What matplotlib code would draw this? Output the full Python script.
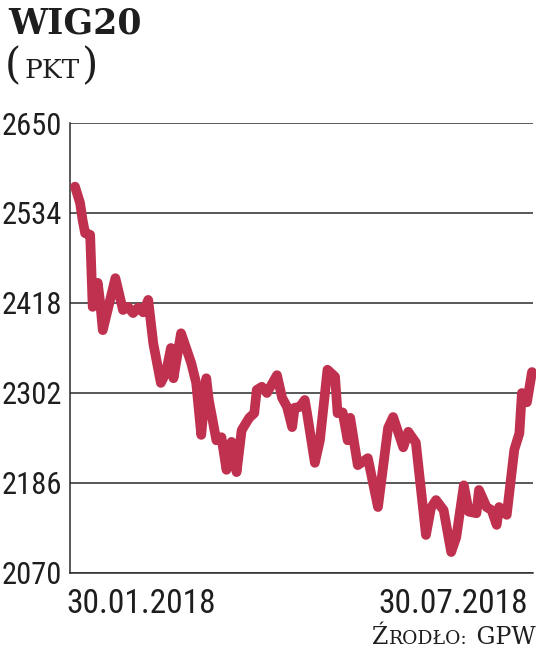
import matplotlib
matplotlib.use('Agg')
import matplotlib.pyplot as plt
from matplotlib import font_manager

# WIG20 index, 30.01.2018 - 30.07.2018
days = [0, 2, 3, 4, 6, 7, 9, 10, 11, 16, 19, 21, 23, 25, 27, 29, 31, 34, 36, 38,
        39, 42, 46, 48, 50, 52, 53, 56, 58, 60, 62, 64, 66, 69, 71, 72, 74, 76, 80, 82,
        84, 86, 87, 89, 91, 92, 95, 97, 100, 103, 104, 106, 108, 109, 111, 112, 116, 120, 124, 126,
        130, 132, 135, 139, 141, 143, 146, 149, 151, 154, 156, 159, 160, 163, 165, 167, 168, 171, 174, 176,
        177, 179, 181]
wig20 = [2568, 2547, 2525, 2508, 2506, 2413, 2444, 2418, 2383, 2450, 2409, 2413, 2405, 2412, 2406, 2422, 2366, 2315, 2328, 2360,
         2321, 2379, 2341, 2315, 2248, 2321, 2293, 2241, 2245, 2203, 2239, 2200, 2254, 2270, 2276, 2306, 2310, 2302, 2325, 2296,
         2284, 2258, 2283, 2284, 2293, 2274, 2212, 2241, 2332, 2323, 2276, 2277, 2241, 2270, 2229, 2209, 2218, 2155, 2257, 2271,
         2232, 2252, 2238, 2119, 2154, 2164, 2151, 2097, 2116, 2183, 2149, 2147, 2177, 2155, 2151, 2132, 2155, 2145, 2229, 2250,
         2302, 2290, 2329]

yticks = [2070, 2186, 2302, 2418, 2534, 2650]
date_labels = ['30.01.2018', '30.07.2018']
title = 'WIG20'
# small caps pieces: (text, size)
unit_parts = [('(', 30), ('PKT', 19), (')', 30)]
source_parts = [('Ź', 17), ('RODŁO:', 13.5), (' GPW', 17)]

line_color = '#c0314f'
ink = '#1e1e1e'


def pick_font(names):
    have = {f.name for f in font_manager.fontManager.ttflist}
    for n in names:
        if n in have:
            return n
    return 'DejaVu Sans'


narrow = pick_font(['Liberation Sans Narrow', 'DejaVu Sans Condensed', 'Roboto Condensed', 'Liberation Sans'])
slab = pick_font(['DejaVu Serif', 'Liberation Serif'])

W, H = 536, 649
fig = plt.figure(figsize=(W / 100, H / 100), dpi=100)
ax = fig.add_axes([70 / W, 1 - 573 / H, 463 / W, 450 / H])

ax.plot(days, wig20, color=line_color, lw=7, solid_joinstyle='round',
        solid_capstyle='round', zorder=3, clip_on=False)

ax.set_ylim(2070, 2650)
ax.set_xlim(-1.98, 181.4)
ax.set_yticks(yticks)
ax.set_yticklabels([str(v) for v in yticks], fontfamily=narrow, fontsize=22, color=ink)
ax.set_xticks([])
ax.tick_params(axis='y', length=0, pad=6)
ax.grid(axis='y', color='#2b2b2b', lw=1.1, zorder=1)
ax.set_axisbelow(True)
for side in ['top', 'right']:
    ax.spines[side].set_visible(False)
for side in ['left', 'bottom']:
    ax.spines[side].set_color('#2b2b2b')
    ax.spines[side].set_linewidth(1.1)

fig.text(66 / W, 1 - 613 / H, date_labels[0], fontfamily=narrow, fontsize=24,
         color=ink, ha='left', va='baseline')
fig.text(528 / W, 1 - 613 / H, date_labels[1], fontfamily=narrow, fontsize=24,
         color=ink, ha='right', va='baseline')

fig.text(8 / W, 1 - 33 / H, title, fontfamily=slab, fontweight='bold',
         fontsize=25, color=ink, ha='left', va='baseline')

renderer = fig.canvas.get_renderer()


def small_caps(x_px, base_px, parts, gap=2):
    # pieces of different size on one baseline, placed one after another
    x = x_px
    for s, size in parts:
        t = fig.text(x / W, 1 - base_px / H, s, fontfamily=slab, fontsize=size,
                     color=ink, ha='left', va='baseline')
        x += t.get_window_extent(renderer).width + gap


small_caps(5, 78, unit_parts, gap=3)
small_caps(372, 644, source_parts, gap=1)

fig.savefig('out.png', dpi=100, facecolor='white')
